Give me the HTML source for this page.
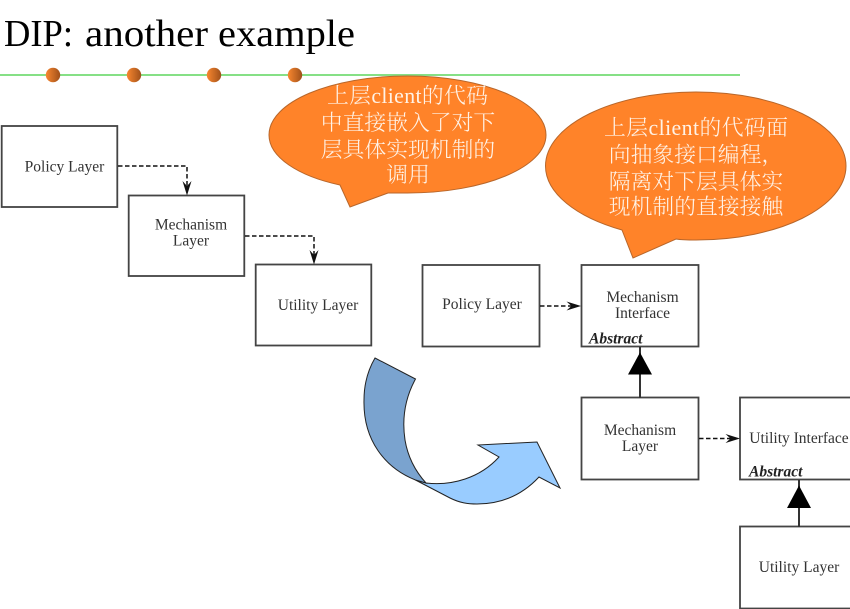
<!DOCTYPE html>
<html><head><meta charset="utf-8"><style>
html,body{margin:0;padding:0;background:#fff}
svg{display:block}
.b{fill:#fff;stroke:#444;stroke-width:1.8}
.t{font-family:"Liberation Serif",serif;font-size:15.5px;fill:#333;text-anchor:middle}
.a{font-family:"Liberation Serif",serif;font-size:15.5px;font-weight:bold;font-style:italic;fill:#222}
.c{font-family:"Liberation Serif","Noto Serif CJK SC",serif;font-size:21.8px;font-weight:300;fill:#fff2e6}
.m{text-anchor:middle}
.d{fill:none;stroke:#111;stroke-width:1.5;stroke-dasharray:4.5 2.5}
.h{fill:#111}
.s{fill:#ff8329;stroke:#b8662a;stroke-width:1}
.ti{font-family:"Liberation Serif",serif;font-size:38px;fill:#000}
</style></head><body>
<svg width="850" height="609" viewBox="0 0 850 609" xmlns="http://www.w3.org/2000/svg">
<defs><linearGradient id="g"><stop offset="0" stop-color="#f8872f"/><stop offset="1" stop-color="#a0501a"/></linearGradient></defs>
<text class="ti" x="4" y="46" textLength="69" lengthAdjust="spacingAndGlyphs">DIP:</text>
<text class="ti" x="85" y="46" textLength="123" lengthAdjust="spacingAndGlyphs">another</text>
<text class="ti" x="218" y="46" textLength="137" lengthAdjust="spacingAndGlyphs">example</text>
<rect x="0" y="74" width="740" height="2" fill="#86e086"/>
<circle cx="53" cy="75" r="7.2" fill="url(#g)"/><circle cx="134" cy="75" r="7.2" fill="url(#g)"/><circle cx="214" cy="75" r="7.2" fill="url(#g)"/><circle cx="295" cy="75" r="7.2" fill="url(#g)"/>

<rect class="b" x="1.7" y="126" width="115.6" height="81"/>
<rect class="b" x="128.7" y="195.5" width="115.6" height="80.5"/>
<rect class="b" x="255.7" y="264.5" width="115.6" height="81"/>
<rect class="b" x="422.5" y="265" width="117" height="81.5"/>
<rect class="b" x="581.5" y="265" width="117" height="81.5"/>
<rect class="b" x="581.5" y="397.5" width="117" height="82"/>
<rect class="b" x="740" y="397.5" width="120" height="82"/>
<rect class="b" x="740" y="526.5" width="120" height="82"/>

<text class="t" x="64.5" y="171.500">Policy Layer</text>
<text class="t" x="191" y="229.500">Mechanism</text><text class="t" x="191" y="245.500">Layer</text>
<text class="t" x="318" y="310">Utility Layer</text>
<text class="t" x="482" y="309">Policy Layer</text>
<text class="t" x="642.500" y="302">Mechanism</text><text class="t" x="642.500" y="318">Interface</text>
<text class="a" x="589" y="343.500">Abstract</text>
<text class="t" x="640" y="435">Mechanism</text><text class="t" x="640" y="451">Layer</text>
<text class="t" x="799" y="443">Utility Interface</text>
<text class="a" x="749" y="476.500">Abstract</text>
<text class="t" x="799" y="572">Utility Layer</text>

<path class="d" d="M118 166H187V190"/>
<path class="h" d="M187 195.500L182.500 181L187 186L191.500 181Z"/>
<path class="d" d="M245 236H314V258"/>
<path class="h" d="M314 264.500L309.500 250L314 255L318.500 250Z"/>
<path class="d" d="M540 306H572"/>
<path class="h" d="M581 306L566.500 301.500L571.500 306L566.500 310.500Z"/>
<path class="d" d="M699 438.500H732"/>
<path class="h" d="M740 438.500L725.500 434L730.500 438.500L725.500 443Z"/>

<path d="M640 347V398" stroke="#333" stroke-width="2"/>
<path d="M640 352.500L652 374.500H628Z" fill="#000"/>
<path d="M799 480V527" stroke="#333" stroke-width="2"/>
<path d="M799 485.500L811 508H787Z" fill="#000"/>

<path class="s" d="M269 135C269 102 331 76 407.500 76C484 76 546 102 546 135C546 167 484 193 407.500 193C400 193 394 193 388 193L350 207L340 185C298 176 269 157 269 135Z"/>
<path class="s" d="M545.500 166C545.500 125 613 92 696 92C779 92 846 125 846 166C846 207 779 240 696 240C688 240 682 240 676 239L633 258L622 230C576 217 545.500 193 545.500 166Z"/>

<text class="c" x="327" y="103" textLength="161">上层client的代码</text>
<text class="c m" x="408" y="130">中直接嵌入了对下</text>
<text class="c m" x="408" y="157">层具体实现机制的</text>
<text class="c m" x="408" y="182">调用</text>
<text class="c" x="604" y="135" textLength="184">上层client的代码面</text>
<text class="c m" x="696" y="162">向抽象接口编程，</text>
<text class="c m" x="696" y="189">隔离对下层具体实</text>
<text class="c m" x="696" y="214">现机制的直接接触</text>

<path d="M415.500 480L450 498C460 503 468 504 477 504C505 504 525 492 539 477L560 488L537 442L478 445L499 457C480 478 452 486 426 483Z" fill="#99ccff" stroke="#222" stroke-width="1"/>
<path d="M375 358L415.500 379C404 400 402 420 405 440C408 458 416 472 426 483L415.500 480C385 468 363 440 364 400C364 383 368 370 375 358Z" fill="#7aa3cf" stroke="#222" stroke-width="1"/>
</svg>
</body></html>
